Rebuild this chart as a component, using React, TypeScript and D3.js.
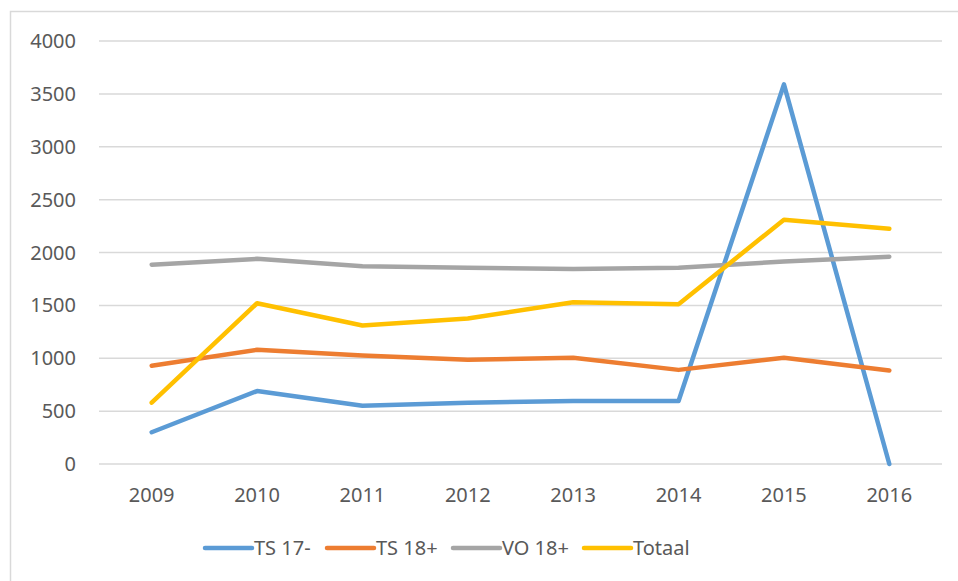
import { useRef, useEffect } from "react";
import * as d3 from "d3";

const years = ["2009", "2010", "2011", "2012", "2013", "2014", "2015", "2016"];
const ts17 = [300, 690, 550, 580, 595, 595, 3590, 0];
const ts18 = [930, 1080, 1025, 985, 1005, 890, 1005, 885];
const vo18 = [1885, 1940, 1870, 1855, 1845, 1855, 1915, 1960];
const totaal = [580, 1520, 1310, 1375, 1530, 1510, 2310, 2225];
const yTicks = [0, 500, 1000, 1500, 2000, 2500, 3000, 3500, 4000];

const series = [
  { name: "TS 17-", values: ts17, color: "#5B9BD5" },
  { name: "TS 18+", values: ts18, color: "#ED7D31" },
  { name: "VO 18+", values: vo18, color: "#A5A5A5" },
  { name: "Totaal", values: totaal, color: "#FFC000" },
];

export default function App() {
  const svgRef = useRef<SVGSVGElement>(null);
  const width = 958;
  const height = 581;

  useEffect(() => {
    if (!svgRef.current) return;
    const svg = d3.select(svgRef.current);
    svg.selectAll("*").remove();

    const font = "'Noto Sans', 'Open Sans', sans-serif";
    const textColor = "#595959";

    // chart frame
    svg
      .append("rect")
      .attr("x", 10.5)
      .attr("y", 11.5)
      .attr("width", 1000)
      .attr("height", 700)
      .attr("fill", "white")
      .attr("stroke", "#d9d9d9")
      .attr("stroke-width", 1.5);

    const x = d3.scalePoint().domain(years).range([99, 942]).padding(0.5);
    const y = d3.scaleLinear().domain([0, 4000]).range([464, 41]);

    // grid lines
    svg
      .selectAll(".grid")
      .data(yTicks)
      .join("line")
      .attr("x1", 99)
      .attr("x2", 942)
      .attr("y1", (d) => y(d))
      .attr("y2", (d) => y(d))
      .attr("stroke", "#d9d9d9")
      .attr("stroke-width", 1.5);

    // y labels
    svg
      .selectAll(".ylab")
      .data(yTicks)
      .join("text")
      .attr("x", 76)
      .attr("y", (d) => y(d))
      .attr("dy", "0.35em")
      .attr("text-anchor", "end")
      .attr("font-family", font)
      .attr("font-size", 20)
      .attr("fill", textColor)
      .text((d) => String(d));

    // x labels
    svg
      .selectAll(".xlab")
      .data(years)
      .join("text")
      .attr("x", (d) => x(d) ?? 0)
      .attr("y", 495)
      .attr("dy", "0.35em")
      .attr("text-anchor", "middle")
      .attr("font-family", font)
      .attr("font-size", 20)
      .attr("fill", textColor)
      .text((d) => d);

    const line = d3
      .line<number>()
      .x((_, i) => x(years[i]) ?? 0)
      .y((d) => y(d));

    svg
      .selectAll(".series")
      .data(series)
      .join("path")
      .attr("d", (s) => line(s.values))
      .attr("fill", "none")
      .attr("stroke", (s) => s.color)
      .attr("stroke-width", 4.5)
      .attr("stroke-linejoin", "round")
      .attr("stroke-linecap", "round");

    // legend
    const legendX = [205, 327, 453, 584];
    const lg = svg
      .selectAll(".legend")
      .data(series)
      .join("g")
      .attr("transform", (_, i) => `translate(${legendX[i]},548)`);
    lg.append("line")
      .attr("x1", 0)
      .attr("x2", 47)
      .attr("stroke", (s) => s.color)
      .attr("stroke-width", 4.5)
      .attr("stroke-linecap", "round");
    lg.append("text")
      .attr("x", 49)
      .attr("dy", "0.35em")
      .attr("font-family", font)
      .attr("font-size", 20)
      .attr("fill", textColor)
      .text((s) => s.name);
  }, []);

  return (
    <svg
      ref={svgRef}
      width={width}
      height={height}
      style={{ position: "absolute", left: 0, top: 0, background: "white" }}
    />
  );
}
